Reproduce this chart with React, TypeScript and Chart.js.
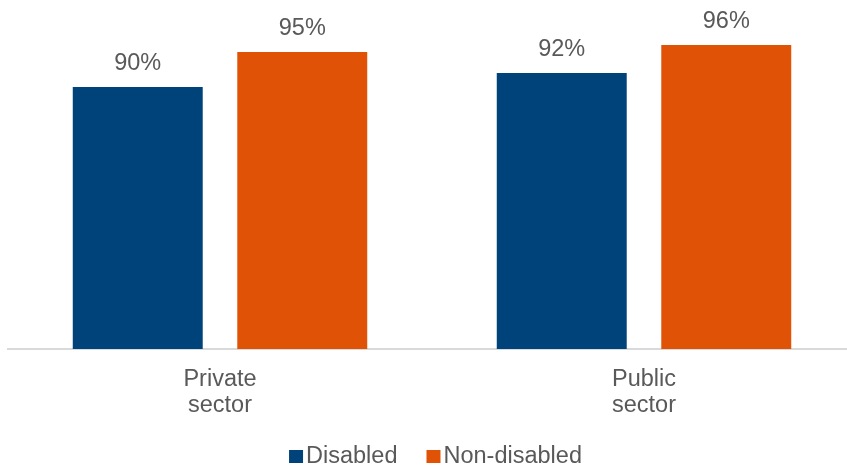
import React, { useEffect, useRef } from "react";
import { Chart, registerables } from "chart.js";

Chart.register(...registerables);

const categories: string[][] = [["Private", "sector"], ["Public", "sector"]];
const seriesNames = ["Disabled", "Non-disabled"];
const disabledValues = [90, 92];
const nonDisabledValues = [95, 96];
const seriesColors = ["#00437A", "#E05206"];

const FONT = "'Liberation Sans', Arial, sans-serif";
const TEXT = "#595959";

const dataLabelPlugin = {
  id: "dataLabels",
  afterDatasetsDraw(chart: any) {
    const ctx = chart.ctx;
    ctx.save();
    ctx.fillStyle = TEXT;
    ctx.font = `23.5px ${FONT}`;
    ctx.textAlign = "center";
    ctx.textBaseline = "alphabetic";
    chart.data.datasets.forEach((ds: any, di: number) => {
      const meta = chart.getDatasetMeta(di);
      meta.data.forEach((bar: any, i: number) => {
        ctx.fillText(`${ds.data[i]}%`, bar.x, bar.y - 17);
      });
    });
    ctx.restore();
  },
};

const legendPlugin = {
  id: "customLegend",
  afterDraw(chart: any) {
    const ctx = chart.ctx;
    ctx.save();
    ctx.font = `23.5px ${FONT}`;
    ctx.textBaseline = "alphabetic";
    ctx.textAlign = "left";
    const box = 14;
    const gapBoxText = 3;
    const gapItems = 29;
    const items = chart.data.datasets.map((ds: any) => ({
      text: ds.label,
      color: ds.backgroundColor,
      w: ctx.measureText(ds.label).width,
    }));
    let total = 0;
    items.forEach((it: any, i: number) => {
      total += box + gapBoxText + it.w + (i < items.length - 1 ? gapItems : 0);
    });
    const center = (chart.chartArea.left + chart.chartArea.right) / 2 + 3.5;
    let x = center - total / 2;
    const baseline = chart.height - 3;
    items.forEach((it: any) => {
      ctx.fillStyle = it.color;
      ctx.fillRect(x, baseline - 13, box, 13);
      x += box + gapBoxText;
      ctx.fillStyle = TEXT;
      ctx.fillText(it.text, x, baseline);
      x += it.w + gapItems;
    });
    ctx.restore();
  },
};

export default function App() {
  const canvasRef = useRef<HTMLCanvasElement | null>(null);

  useEffect(() => {
    if (!canvasRef.current) return;
    const chart = new Chart(canvasRef.current, {
      type: "bar",
      data: {
        labels: categories,
        datasets: [
          {
            label: seriesNames[0],
            data: disabledValues,
            backgroundColor: seriesColors[0],
            categoryPercentage: 0.776,
            barPercentage: 0.79,
          },
          {
            label: seriesNames[1],
            data: nonDisabledValues,
            backgroundColor: seriesColors[1],
            categoryPercentage: 0.776,
            barPercentage: 0.79,
          },
        ],
      },
      options: {
        responsive: false,
        animation: false,
        layout: { padding: { left: 8, right: 0, top: 20, bottom: 29 } },
        plugins: {
          legend: { display: false },
          tooltip: { enabled: false },
        },
        scales: {
          x: {
            grid: { display: false, drawTicks: false },
            border: { display: true, color: "#d9d9d9", width: 2 },
            ticks: {
              color: TEXT,
              padding: 18,
              font: { family: FONT, size: 23.5, lineHeight: 1.106 },
            },
          },
          y: {
            display: false,
            min: 52.4,
            max: 99.6,
            grid: { display: false },
          },
        },
      },
      plugins: [dataLabelPlugin, legendPlugin],
    });
    return () => chart.destroy();
  }, []);

  return (
    <div
      style={{
        position: "absolute",
        top: 0,
        left: 0,
        width: 847,
        height: 466,
        overflow: "hidden",
        background: "#ffffff",
      }}
    >
      <canvas ref={canvasRef} width={856} height={466} style={{ width: 856, height: 466 }} />
    </div>
  );
}
